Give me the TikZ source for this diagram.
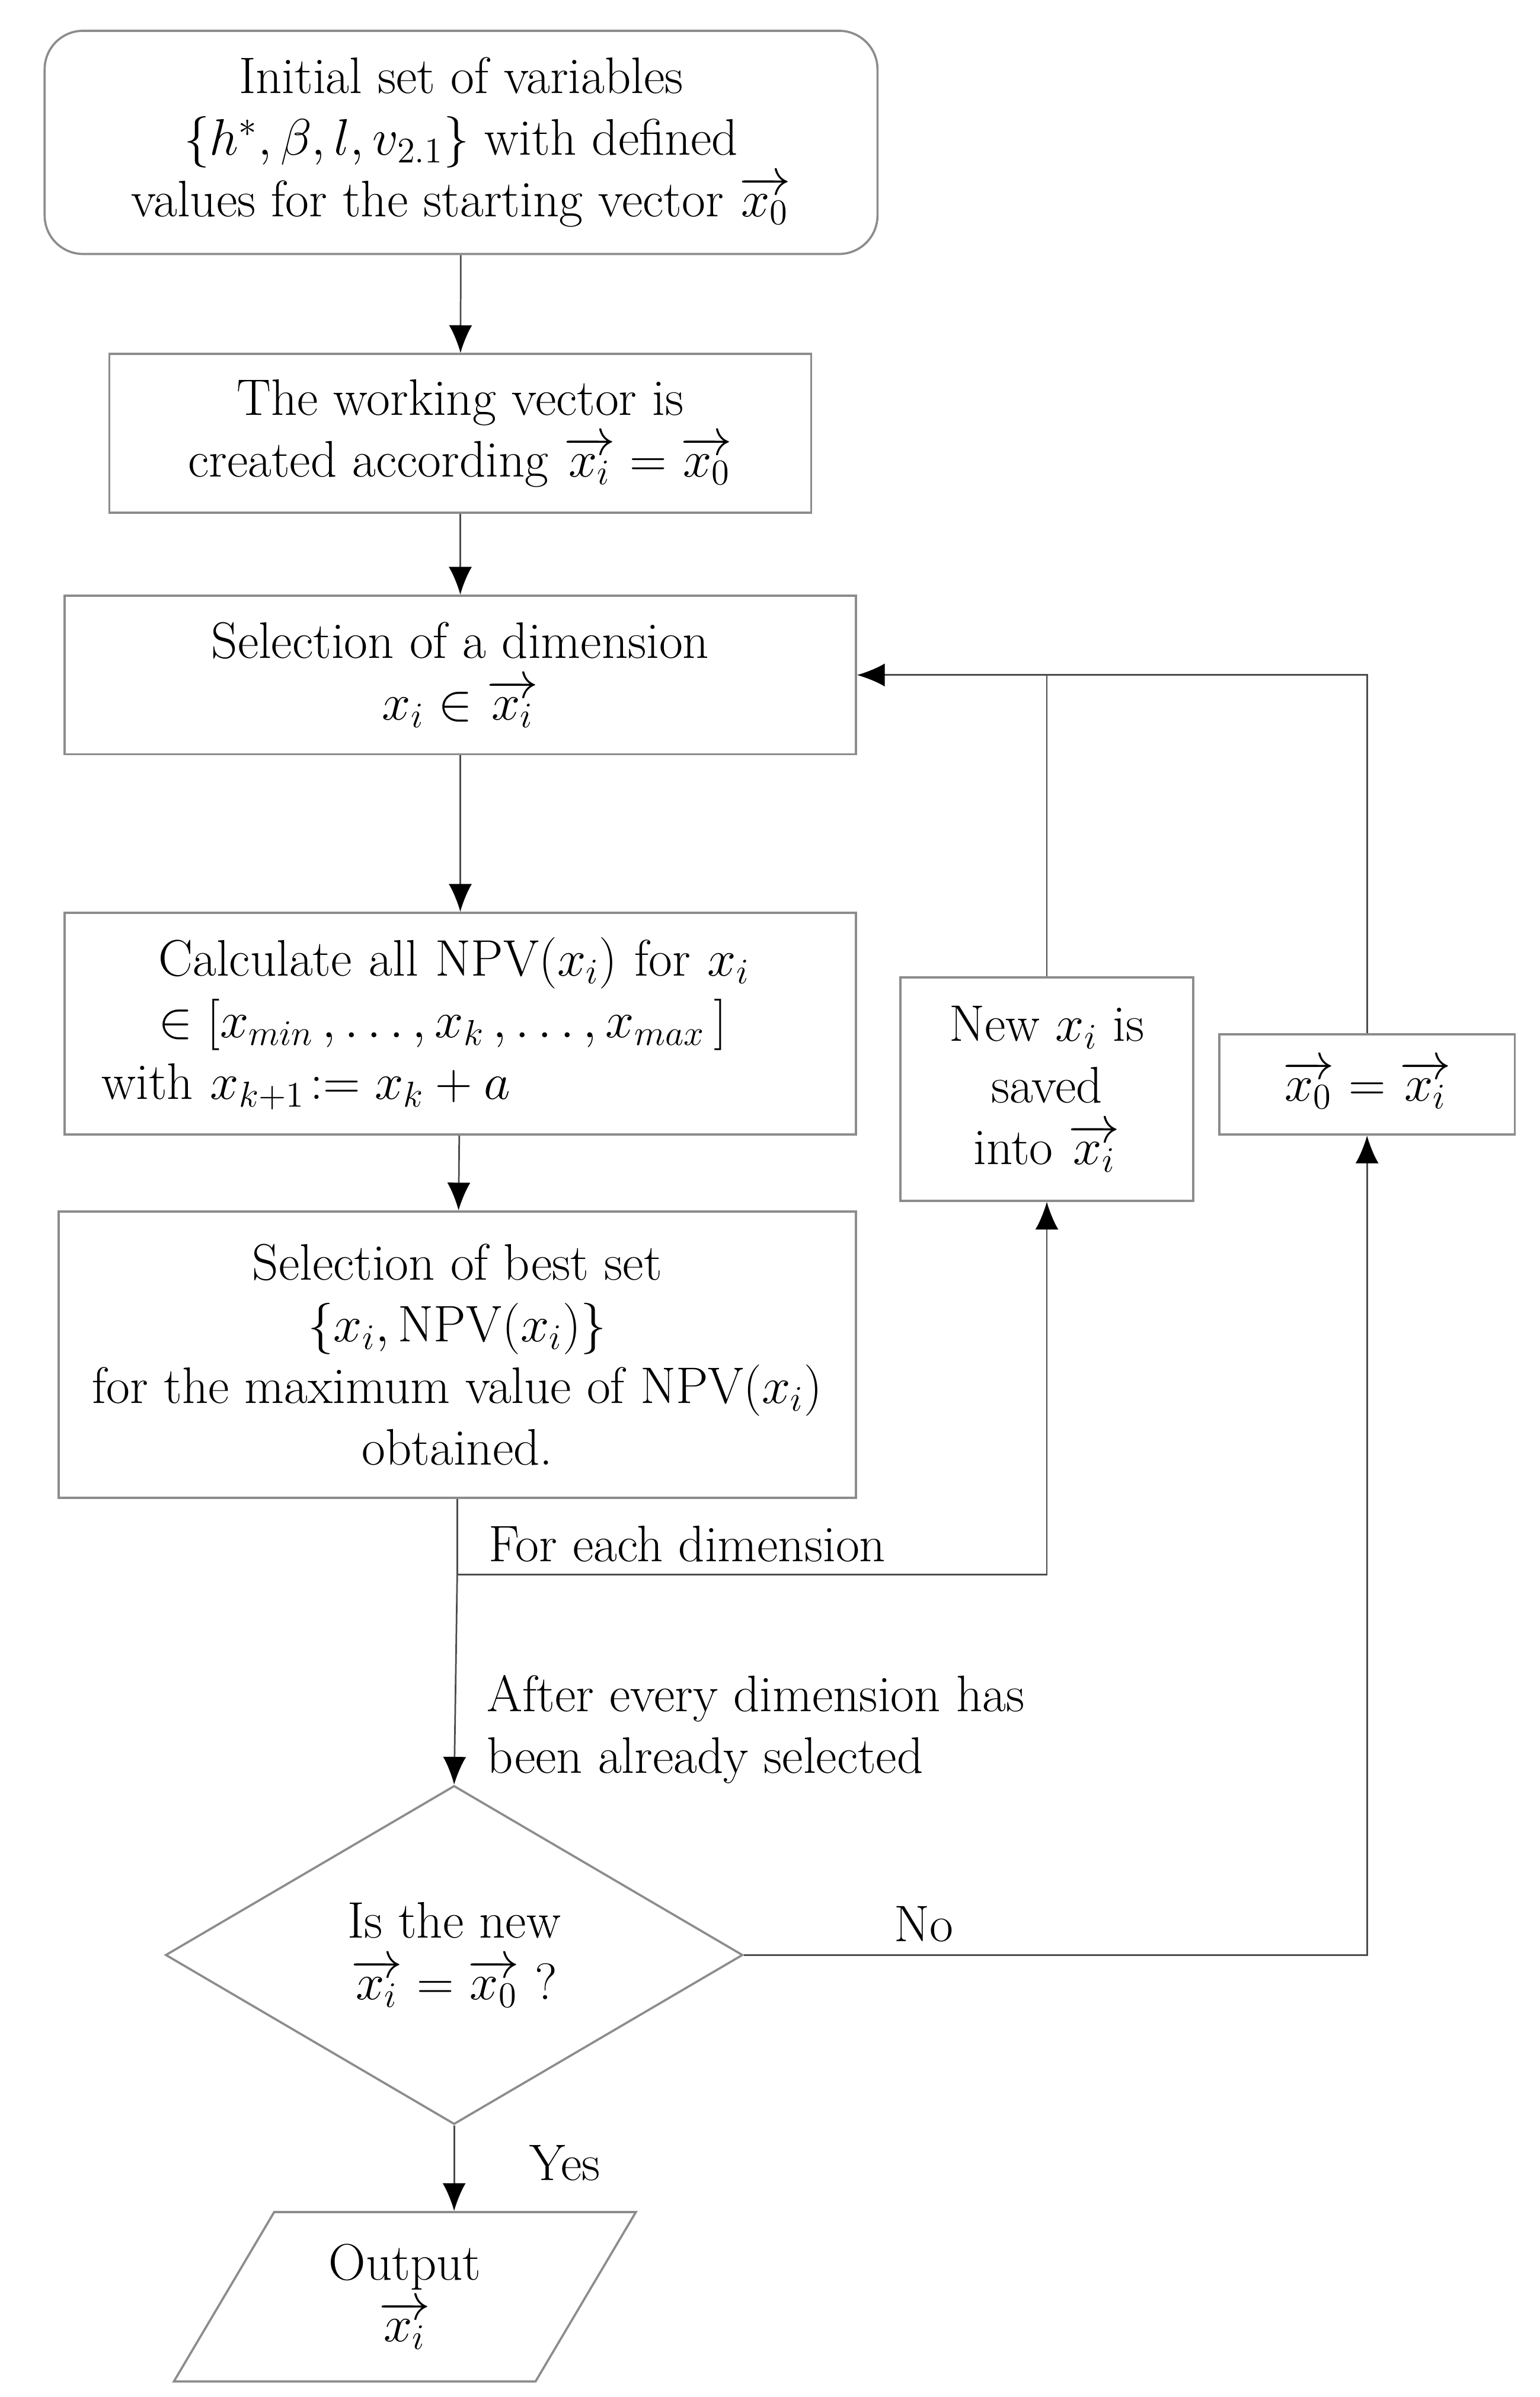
\RequirePackage{fix-cm}
\documentclass[tikz,border=0pt]{standalone}
\usepackage{amsmath}
\usetikzlibrary{shapes.geometric,arrows.meta}

\begin{document}
\begin{tikzpicture}[
        font=\fontsize{19}{22.8}\selectfont,
        box/.style={draw=black!45, line width=0.8pt, inner sep=0pt, align=center},
        link/.style={draw=black!70, line width=0.6pt},
        arr/.style={link, -{Latex[length=3.6mm,width=3mm,color=black]}},
    ]
        \useasboundingbox (0,0) rectangle (20,-31.143);
        \node[box, rounded corners=0.5cm, minimum width=10.82cm, minimum height=2.9cm] (init) at (5.99,-1.85) {Initial set of variables\\ $\{h^*, \beta, l, v_{2.1}\}$ with defined\\ values for the starting vector $\overrightarrow{x_0}$};
        \node[box, minimum width=9.12cm, minimum height=2.06cm] (work) at (5.98,-5.63) {The working vector is\\ created according $\overrightarrow{x_i} = \overrightarrow{x_0}$};
        \node[box, minimum width=10.28cm, minimum height=2.06cm] (dim) at (5.98,-8.77) {Selection of a dimension\\ $x_i \in \overrightarrow{x_i}$};
        \node[box, minimum width=10.28cm, minimum height=2.88cm, text width=9.32cm, align=left] (calc) at (5.98,-13.3) {\hspace*{0.74cm}Calculate all NPV$(x_i)$ for $x_i$\\ \hspace*{0.74cm}$\in [x_{min}\,, \ldots, x_k\,, \ldots, x_{max}\,]$\\ with $x_{k+1}\!:= x_k + a$};
        \node[box, minimum width=10.36cm, minimum height=3.72cm] (best) at (5.94,-17.6) {Selection of best set\\ $\{x_i, \mathrm{NPV}(x_i)\}$\\ for the maximum value of\ NPV$(x_i)$\\ obtained.};
        \node[box, minimum width=3.8cm, minimum height=2.9cm] (save) at (13.6,-14.15) {New $x_i$ is\\ saved\\ into $\overrightarrow{x_i}$};
        \node[box, minimum width=3.84cm, minimum height=1.3cm] (reset) at (17.76,-14.09) {$\overrightarrow{x_0} = \overrightarrow{x_i}$};
        \node[box, diamond, minimum width=7.5cm, minimum height=4.4cm] (check) at (5.9,-25.4) {Is the new\\ $\overrightarrow{x_i} = \overrightarrow{x_0}$ ?};
        \node[box, trapezium, trapezium left angle=61, trapezium right angle=119, trapezium stretches=true, minimum width=6.04cm, minimum height=2.2cm] (out) at (5.26,-29.84) {Output\\ $\overrightarrow{x_i}$};

        \node[anchor=west, inner sep=0pt] (each) at (6.34,-20.06) {For each dimension};
        \node[anchor=west, inner sep=0pt, align=left] (after) at (6.32,-22.47) {After every dimension has\\ been already selected};
        \node (no) at (12.0,-25.0) {No};
        \node (yes) at (7.34,-28.1) {Yes};

        \draw[arr] (init) -- (work);
        \draw[arr] (work) -- (dim);
        \draw[arr] (dim) -- (calc);
        \draw[arr] (calc) -- (best);
        \coordinate (split) at (5.94,-20.46);
        \draw[link] (best.south) -- (split);
        \draw[arr] (split) -| (save.south);
        \draw[arr] (split) -- (check.north);
        \draw[arr] (save.north) |- (dim.east);
        \draw[link] (reset.north) |- (save.north |- dim.east);
        \draw[arr] (check.east) -| (reset.south);
        \draw[arr] (check.south) -- (check.south |- out.north);
    \end{tikzpicture}
\end{document}
